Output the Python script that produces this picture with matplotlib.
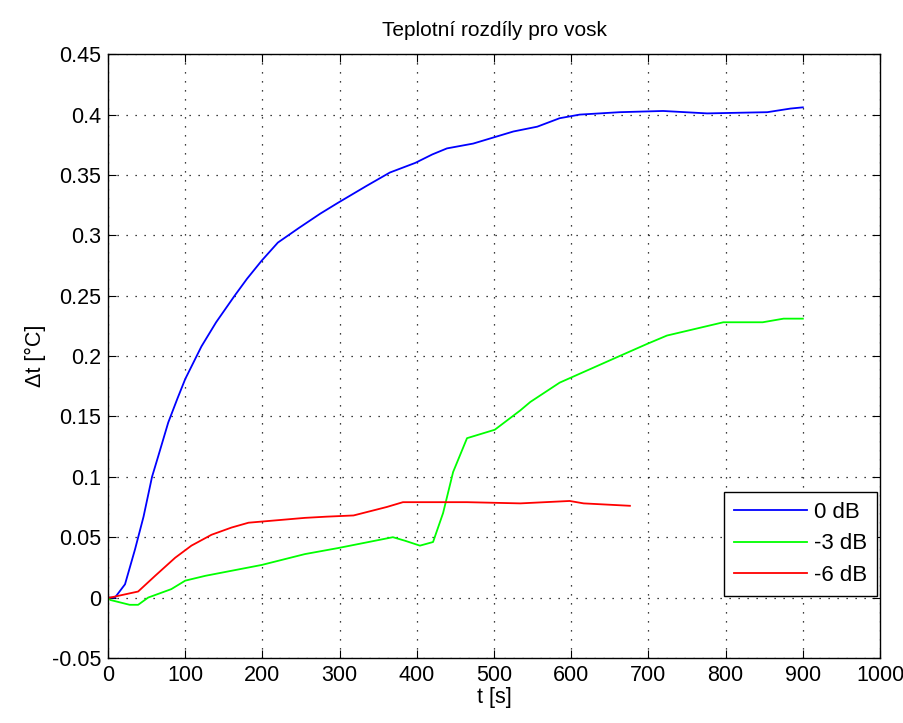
import matplotlib
matplotlib.use('Agg')
import matplotlib.pyplot as plt

plt.rcParams['font.family'] = ['Liberation Sans', 'DejaVu Sans']

# 0 dB (blue)
t_0db = [0, 9, 22, 35, 46, 57, 65, 78, 90, 100, 121, 140, 164, 180, 199, 220, 247,
         275, 298, 335, 365, 398, 420, 439, 473, 499, 525, 556, 585, 611, 663, 719,
         776, 854, 884, 900]
v_0db = [0, 0, 0.011, 0.040, 0.067, 0.10, 0.117, 0.145, 0.165, 0.181, 0.208, 0.228,
         0.25, 0.264, 0.279, 0.294, 0.306, 0.318, 0.327, 0.341, 0.352, 0.36, 0.367,
         0.372, 0.376, 0.381, 0.386, 0.39, 0.397, 0.40, 0.402, 0.403, 0.401, 0.402,
         0.405, 0.406]

# -3 dB (green)
t_3db = [0, 3, 28, 39, 52, 82, 100, 126, 199, 255, 298, 369, 385, 404, 421, 434, 447,
         465, 501, 534, 547, 585, 659, 698, 724, 797, 848, 875, 900]
v_3db = [0, -0.002, -0.006, -0.006, 0, 0.007, 0.014, 0.018, 0.027, 0.036, 0.041, 0.05,
         0.047, 0.043, 0.046, 0.07, 0.104, 0.132, 0.139, 0.155, 0.162, 0.178, 0.199,
         0.21, 0.217, 0.228, 0.228, 0.231, 0.231]

# -6 dB (red)
t_6db = [0, 3, 39, 61, 87, 108, 134, 160, 182, 255, 283, 318, 361, 382, 465, 534, 598,
         616, 676]
v_6db = [0, 0, 0.005, 0.018, 0.033, 0.043, 0.052, 0.058, 0.062, 0.066, 0.067, 0.068,
         0.075, 0.079, 0.079, 0.078, 0.08, 0.078, 0.076]

labels = ['0 dB', '-3 dB', '-6 dB']

fig = plt.figure(figsize=(9.04, 7.23), dpi=100)
ax = fig.add_axes((0.1195, 0.09, 0.854, 0.835))

ax.plot(t_0db, v_0db, color='#0000ff', lw=1.3, label=labels[0])
ax.plot(t_3db, v_3db, color='#00ff00', lw=1.3, label=labels[1])
ax.plot(t_6db, v_6db, color='#ff0000', lw=1.3, label=labels[2])

ax.set_xlim(0, 1000)
ax.set_ylim(-0.05, 0.45)
ax.set_xticks(range(0, 1001, 100))
ax.set_yticks([-0.05, 0, 0.05, 0.1, 0.15, 0.2, 0.25, 0.3, 0.35, 0.4, 0.45])
ax.set_yticklabels(['-0.05', '0', '0.05', '0.1', '0.15', '0.2', '0.25', '0.3',
                    '0.35', '0.4', '0.45'])
ax.grid(True, color='black', linestyle=(0, (1, 6.2)), linewidth=0.9)
ax.tick_params(direction='in', top=True, right=True, length=6, labelsize=15.5, pad=5)
for s in ax.spines.values():
    s.set_linewidth(1.0)

ax.set_title('Teplotní rozdíly pro vosk', fontsize=15, pad=13)
ax.set_xlabel('t [s]', fontsize=15.5, labelpad=1)
ax.set_ylabel('Δt [°C]', fontsize=15.5, labelpad=4)

leg = ax.legend(loc='lower right', bbox_to_anchor=(1.0, 0.097), fontsize=16,
                fancybox=False, framealpha=1, edgecolor='black', handlelength=3.3,
                handletextpad=0.3, borderaxespad=0.15, labelspacing=0.48,
                borderpad=0.45)
leg.get_frame().set_linewidth(1.0)

fig.savefig('out.png', dpi=100, facecolor='white')
